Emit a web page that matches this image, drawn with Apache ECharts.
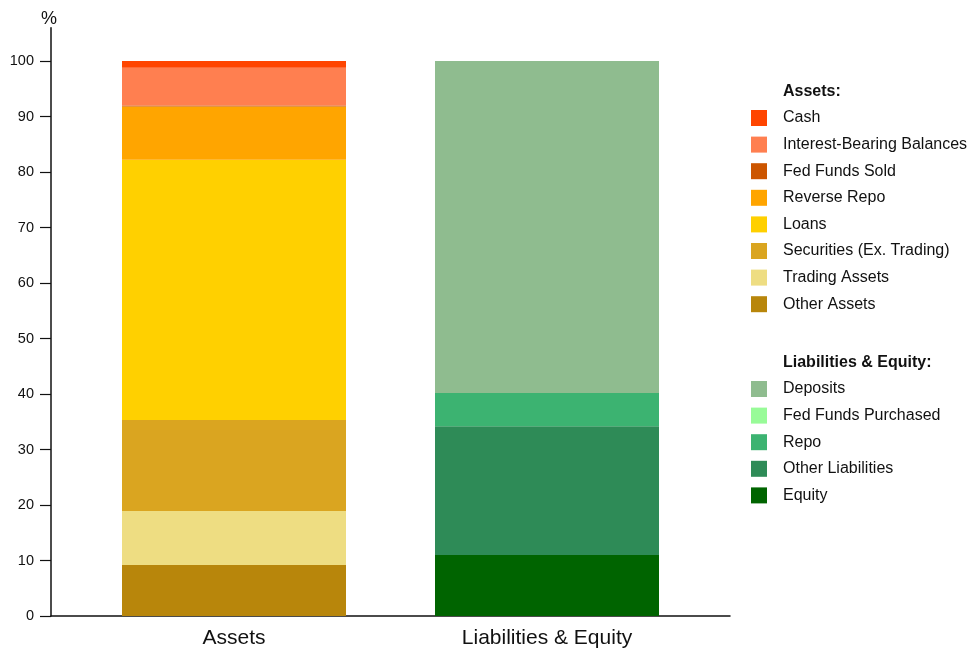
<!DOCTYPE html>
<html>
<head>
<meta charset="utf-8">
<script src="https://cdn.jsdelivr.net/npm/echarts@6/dist/echarts.min.js"></script>
<style>html,body{margin:0;padding:0;background:#fff}#c{width:969px;height:654px}</style>
</head>
<body>
<div id="c"></div>
<script>
// ---- data ----
const categories = ['Assets', 'Liabilities & Equity'];
const yTicks = [0, 10, 20, 30, 40, 50, 60, 70, 80, 90, 100];

// Assets (legend order, top of stack first)
const assetNames = ['Cash', 'Interest-Bearing Balances', 'Fed Funds Sold', 'Reverse Repo', 'Loans', 'Securities (Ex. Trading)', 'Trading Assets', 'Other Assets'];
const assetValues = [1.2, 6.8, 0.2, 9.6, 46.9, 16.4, 9.7, 9.2];
const assetColors = ['#FF4500', '#FF7F50', '#CC5500', '#FFA500', '#FFD000', '#DAA520', '#EEDD82', '#B8860B'];

// Liabilities & Equity (legend order, top of stack first)
const liabNames = ['Deposits', 'Fed Funds Purchased', 'Repo', 'Other Liabilities', 'Equity'];
const liabValues = [59.8, 0, 6.0, 23.2, 11.0];
const liabColors = ['#8FBC8F', '#98FB98', '#3CB371', '#2E8B57', '#006400'];

const FONT = 'Liberation Sans, Arial, Helvetica, sans-serif';
const TXT = '#111';

const series = [];
// stack bottom-up: iterate reversed
for (let i = assetNames.length - 1; i >= 0; i--) {
  series.push({
    name: assetNames[i], type: 'bar', stack: 'total', xAxisIndex: 0, yAxisIndex: 0,
    barWidth: 224, itemStyle: { color: assetColors[i] },
    data: [assetValues[i], '-']
  });
}
for (let i = liabNames.length - 1; i >= 0; i--) {
  series.push({
    name: liabNames[i], type: 'bar', stack: 'total', xAxisIndex: 0, yAxisIndex: 0,
    barWidth: 224, itemStyle: { color: liabColors[i] },
    data: ['-', liabValues[i]]
  });
}

const gridTop = 27.7, gridBottom = 38;
const legendCommon = {
  orient: 'vertical', left: 751, padding: 0, icon: 'rect', itemWidth: 16, itemHeight: 16, itemGap: 10.6,
  selectedMode: false,
  textStyle: { fontFamily: FONT, fontSize: 16, color: TXT, padding: [0, 0, 0, 11] }
};

const option = {
  animation: false,
  backgroundColor: '#fff',
  title: [
    { text: 'Assets:', left: 783, top: 84, padding: 0,
      textStyle: { fontFamily: FONT, fontSize: 16, fontWeight: 'bold', color: TXT } },
    { text: 'Liabilities & Equity:', left: 783, top: 355, padding: 0,
      textStyle: { fontFamily: FONT, fontSize: 16, fontWeight: 'bold', color: TXT } }
  ],
  legend: [
    Object.assign({}, legendCommon, { top: 110, data: assetNames }),
    Object.assign({}, legendCommon, { top: 381, data: liabNames })
  ],
  grid: [
    { left: 77.5, right: 265.5, top: gridTop, bottom: gridBottom },
    { left: 51, right: 239, top: gridTop, bottom: gridBottom }
  ],
  xAxis: [
    { type: 'category', gridIndex: 0, data: categories,
      axisLine: { show: false }, axisTick: { show: false },
      axisLabel: { margin: 12, fontFamily: FONT, fontSize: 21, color: TXT } },
    { type: 'category', gridIndex: 1, data: categories,
      axisLine: { show: true, lineStyle: { color: TXT, width: 1.5 } },
      axisTick: { show: false }, axisLabel: { show: false } }
  ],
  yAxis: [
    { type: 'value', gridIndex: 0, min: 0, max: 106, show: false, splitLine: { show: false } },
    { type: 'value', gridIndex: 1, min: 0, max: 106, interval: 10,
      name: '%', nameLocation: 'end', nameGap: 0,
      nameTextStyle: { fontFamily: FONT, fontSize: 18, color: TXT, padding: [0, 4, 0, 0] },
      axisLine: { show: true, lineStyle: { color: TXT, width: 1.5 } },
      axisTick: { show: true, length: 11, customValues: yTicks, lineStyle: { color: TXT, width: 1.2 } },
      axisLabel: { margin: 17, customValues: yTicks, fontFamily: FONT, fontSize: 14.5, color: TXT },
      splitLine: { show: false } }
  ],
  series: series
};

const chart = echarts.init(document.getElementById('c'), null, { renderer: 'canvas' });
chart.setOption(option);
</script>
</body>
</html>
